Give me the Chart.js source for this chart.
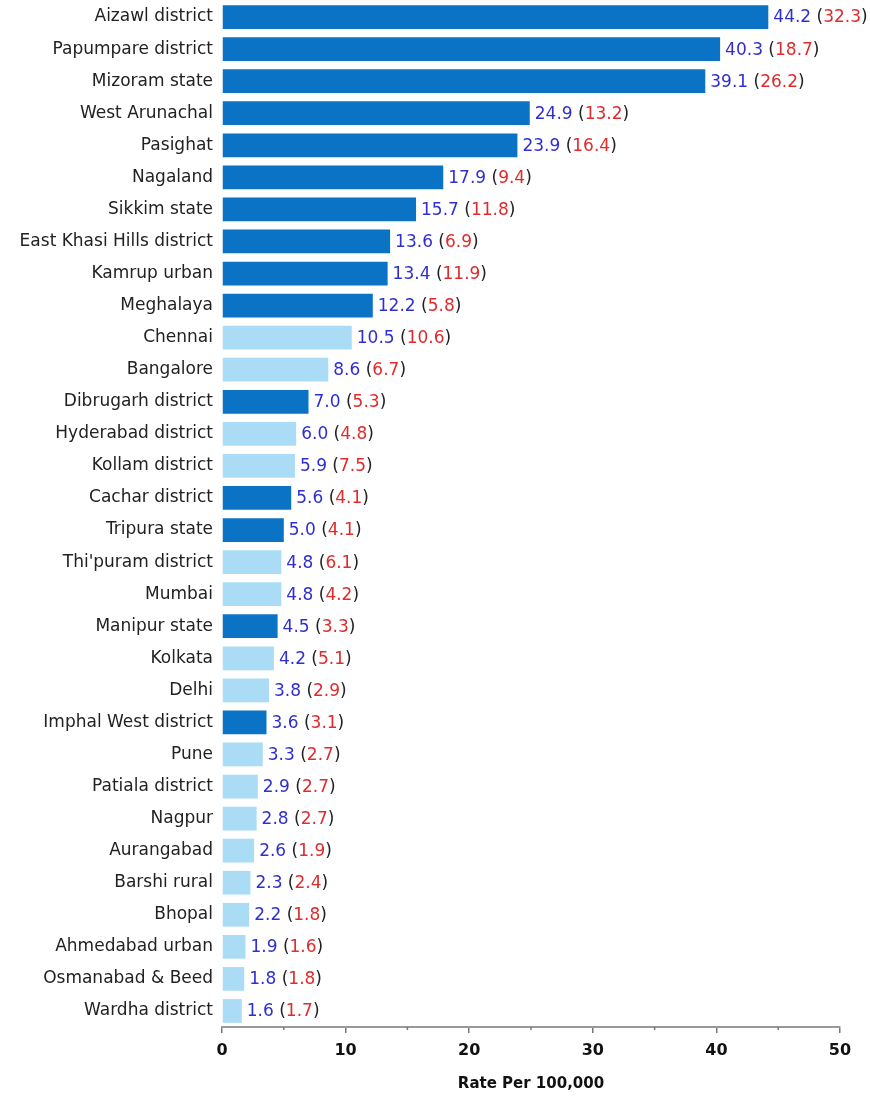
<!DOCTYPE html>
<html>
<head>
<meta charset="utf-8">
<script src="https://cdn.jsdelivr.net/npm/chart.js@4"></script>
<style>
  html, body { margin: 0; padding: 0; background: #fff; }
  #wrap { width: 870px; height: 1099px; }
</style>
</head>
<body>
<div id="wrap"><canvas id="barChart"></canvas></div>
<script>
const regions = [
  "Aizawl district", "Papumpare district", "Mizoram state", "West Arunachal",
  "Pasighat", "Nagaland", "Sikkim state", "East Khasi Hills district",
  "Kamrup urban", "Meghalaya", "Chennai", "Bangalore", "Dibrugarh district",
  "Hyderabad district", "Kollam district", "Cachar district", "Tripura state",
  "Thi'puram district", "Mumbai", "Manipur state", "Kolkata", "Delhi",
  "Imphal West district", "Pune", "Patiala district", "Nagpur", "Aurangabad",
  "Barshi rural", "Bhopal", "Ahmedabad urban", "Osmanabad & Beed", "Wardha district"
];
const maleRates = [
  44.2, 40.3, 39.1, 24.9, 23.9, 17.9, 15.7, 13.6, 13.4, 12.2, 10.5, 8.6, 7.0,
  6.0, 5.9, 5.6, 5.0, 4.8, 4.8, 4.5, 4.2, 3.8, 3.6, 3.3, 2.9, 2.8, 2.6, 2.3,
  2.2, 1.9, 1.8, 1.6
];
const femaleRates = [
  32.3, 18.7, 26.2, 13.2, 16.4, 9.4, 11.8, 6.9, 11.9, 5.8, 10.6, 6.7, 5.3,
  4.8, 7.5, 4.1, 4.1, 6.1, 4.2, 3.3, 5.1, 2.9, 3.1, 2.7, 2.7, 2.7, 1.9, 2.4,
  1.8, 1.6, 1.8, 1.7
];
// 1 = north-east registry, 0 = other
const northEast = [
  1, 1, 1, 1, 1, 1, 1, 1, 1, 1, 0, 0, 1, 0, 0, 1, 1, 0, 0, 1, 0, 0, 1, 0, 0,
  0, 0, 0, 0, 0, 0, 0
];
const xTicks = [0, 10, 20, 30, 40, 50];

const DARK = "#0b73c6";
const LIGHT = "#aadcf6";
const FONT = "'DejaVu Sans', sans-serif";

const valueLabels = {
  id: "valueLabels",
  afterDatasetsDraw(chart) {
    const ctx = chart.ctx;
    const meta = chart.getDatasetMeta(0);
    ctx.save();
    ctx.font = "17px " + FONT;
    ctx.textBaseline = "middle";
    ctx.textAlign = "left";
    meta.data.forEach((bar, i) => {
      let x = bar.x + 5;
      const parts = [
        [maleRates[i].toFixed(1), "#2f2fd0"],
        [" (", "#222"],
        [femaleRates[i].toFixed(1), "#e02b2b"],
        [")", "#222"]
      ];
      parts.forEach(([t, c]) => {
        ctx.fillStyle = c;
        ctx.fillText(t, x, bar.y + 1);
        x += ctx.measureText(t).width;
      });
    });
    ctx.restore();
  }
};

const minorTicks = {
  id: "minorTicks",
  afterDraw(chart) {
    const s = chart.scales.x;
    const ctx = chart.ctx;
    ctx.save();
    ctx.strokeStyle = "#777";
    ctx.lineWidth = 1.5;
    for (let v = 5; v < 50; v += 10) {
      const px = s.getPixelForValue(v);
      ctx.beginPath();
      ctx.moveTo(px, s.top);
      ctx.lineTo(px, s.top + 3);
      ctx.stroke();
    }
    ctx.restore();
  }
};

const ctx = document.getElementById("barChart").getContext("2d");
new Chart(ctx, {
  type: "bar",
  data: {
    labels: regions,
    datasets: [
      {
        data: maleRates,
        backgroundColor: northEast.map((n) => (n ? DARK : LIGHT)),
        barPercentage: 0.74,
        categoryPercentage: 1,
      },
    ],
  },
  options: {
    indexAxis: "y",
    responsive: true,
    maintainAspectRatio: false,
    animation: false,
    layout: { padding: { left: 0, right: 30, top: 1, bottom: 6 } },
    plugins: {
      legend: { display: false },
      tooltip: { enabled: false },
    },
    scales: {
      x: {
        min: 0,
        max: 50,
        afterBuildTicks: (s) => { s.ticks = xTicks.map((v) => ({ value: v })); },
        afterFit: (s) => { s.height = 66; },
        grid: { display: true, drawOnChartArea: false, tickLength: 6, color: "#777", lineWidth: 1.5 },
        border: { color: "#999", width: 2 },
        ticks: { color: "#111", font: { family: FONT, size: 16, weight: "bold" }, padding: 8 },
        title: {
          display: true,
          text: "Rate Per 100,000",
          color: "#111",
          font: { family: FONT, size: 15, weight: "bold" },
          padding: { top: 10, bottom: 0 },
        },
      },
      y: {
        afterFit: (s) => {
          s.width = 222;
          s.paddingTop = 0;
          s.paddingBottom = 0;
        },
        grid: { display: false },
        border: { display: false },
        ticks: { color: "#222", font: { family: FONT, size: 17 }, padding: 1, autoSkip: false },
      },
    },
  },
  plugins: [valueLabels, minorTicks],
});
</script>
</body>
</html>
